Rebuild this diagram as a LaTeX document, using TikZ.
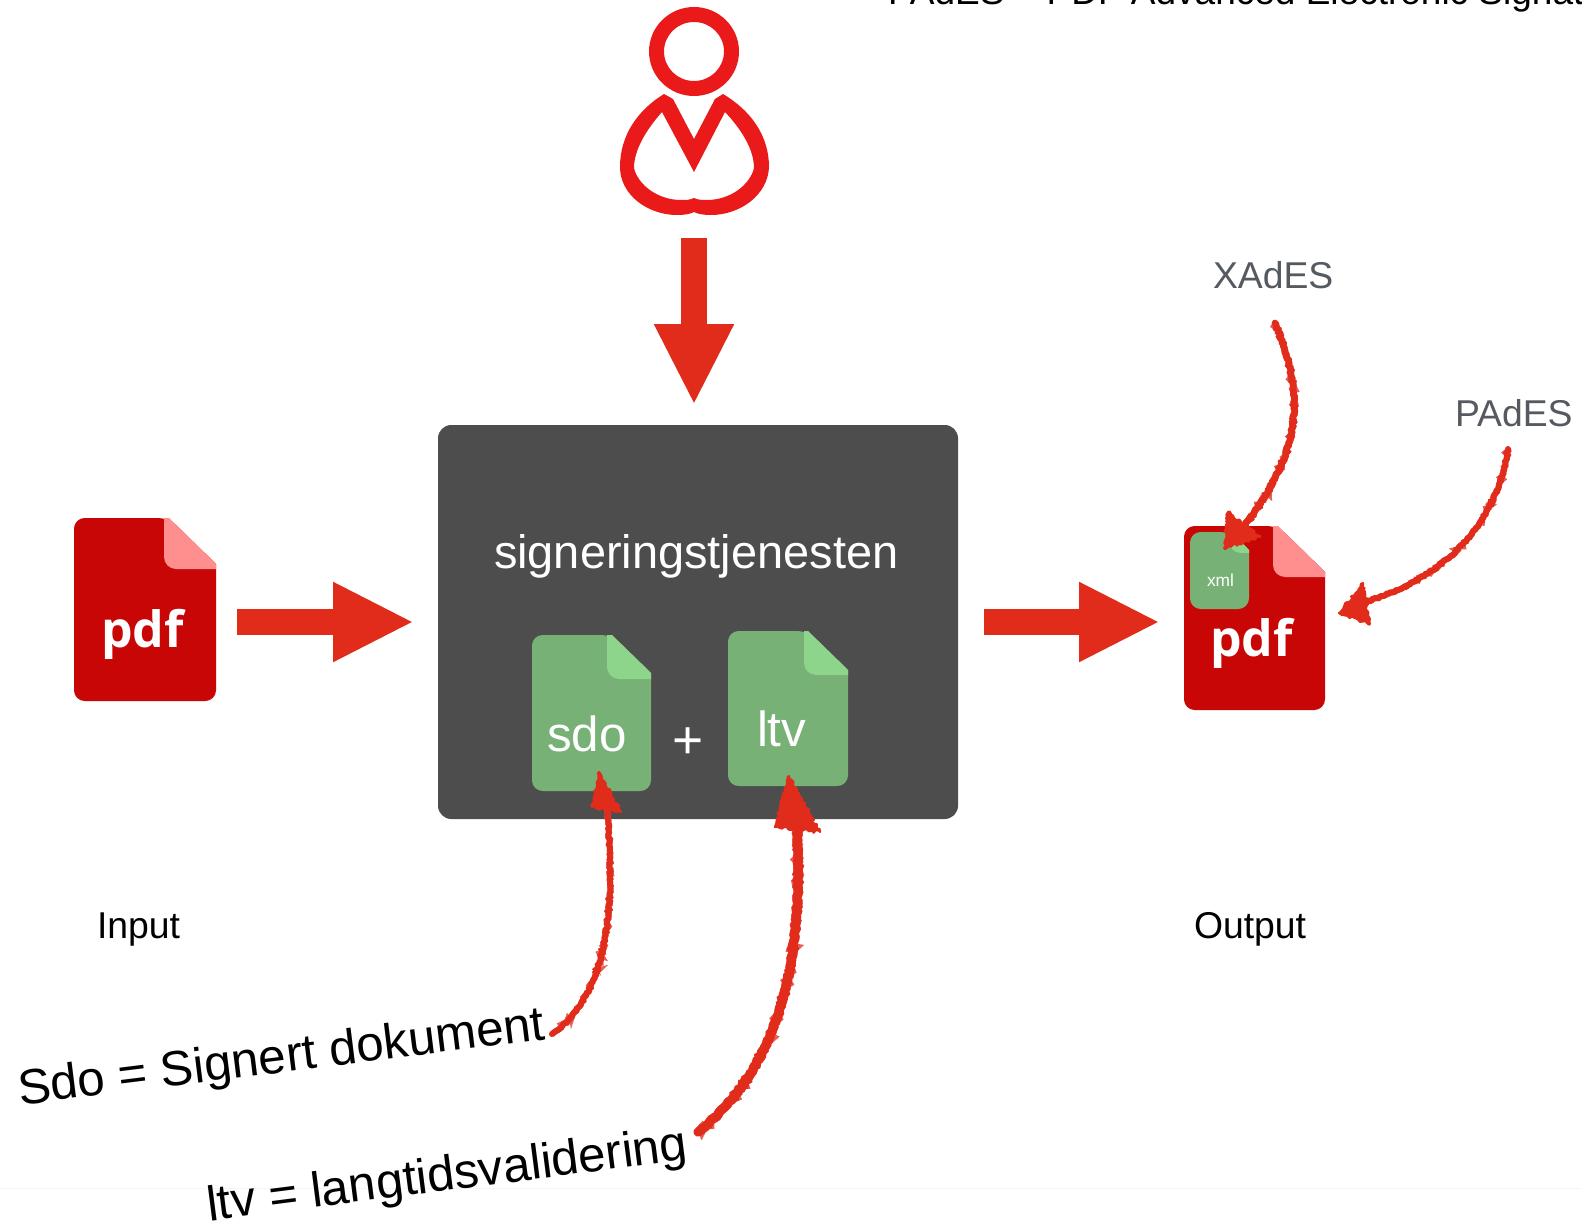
\documentclass[tikz,border=0pt]{standalone}
\usepackage{fontspec}
\setmainfont{Liberation Sans}
\newfontfamily\pdffont{Open Sans}
\usetikzlibrary{arrows.meta,decorations.pathmorphing}
\definecolor{handred}{HTML}{E22C1B}
\definecolor{personred}{HTML}{EA1A1A}
\definecolor{pdfred}{HTML}{C90606}
\definecolor{pdffold}{HTML}{FF8F8F}
\definecolor{docgreen}{HTML}{77B175}
\definecolor{docfold}{HTML}{8DD58A}
\definecolor{boxgrey}{HTML}{4D4D4D}
\definecolor{labelgrey}{HTML}{555A60}
% x1 y1 x2 y2 foldx foldy cutx cuty family
\newcommand{\docshape}[9]{%
  \fill[#9body,rounded corners=8pt] (#1,#2) -- (#7,#2) [sharp corners] -- (#3,#8) [rounded corners=8pt] -- (#3,#4) -- (#1,#4) -- cycle;
  \fill[#9flap] (#5,#2) [rounded corners=9pt] -- (#5,#6) [sharp corners] -- (#3,#6) -- (#3,#8) -- (#7,#2) -- cycle;}
\tikzset{
  x=0.75pt,y=-0.75pt,
  pdfbody/.style={fill=pdfred},
  pdfflap/.style={fill=pdffold},
  greenbody/.style={fill=docgreen},
  greenflap/.style={fill=docfold},
  holder/.style={rectangle,inner sep=0pt,outer sep=0pt},
  bigarrow/.style={draw=handred,line width=19.5pt,-{Triangle[length=60.75pt,width=55.5pt]}},
  fuzzy/.style={decorate,decoration={random steps,segment length=1.4pt,amplitude=#1}},
  handshaft/.style={draw=handred,fuzzy=0.6pt,line cap=round,
    postaction={draw=handred,fuzzy=1.1pt,line width=1.2pt},
    preaction={draw=handred!75!white,fuzzy=1.3pt,line width=#1}},
  handhead/.style={fill=handred,draw=handred,line width=1.6pt,line join=round,fuzzy=1.1pt},
  txt/.style={inner sep=0pt,outer sep=0pt,anchor=base west,align=left},
  pdftxt/.style={txt,text=white,font=\pdffont\bfseries\fontsize{37.5pt}{40pt}\selectfont},
  biglabel/.style={txt,font=\fontsize{28pt}{32pt}\selectfont},
  inbox/.style={txt,text=white,font=\fontsize{37pt}{40pt}\selectfont},
}
\begin{document}
\begin{tikzpicture}
\useasboundingbox (0,0) rectangle (1582,1227);
\clip (0,0) rectangle (1582,1227);
\fill[white] (0,0) rectangle (1582,1227);
\draw[black!4,line width=0.75pt] (0,1188) -- (1582,1188);

% top caption, cut by the page edge
\node[txt,font=\fontsize{27.75pt}{30pt}\selectfont] (caption) at (888,5) {PAdES = PDF Advanced Electronic Signature};

% person
\node[holder,minimum width=112pt,minimum height=157.5pt] (person) at (694,110) {};
\fill[personred,even odd rule] (694,51.5) ellipse [x radius=45,y radius=44.5] (694,51.5) ellipse [x radius=30,y radius=29.5];
\fill[personred,even odd rule]
  (664,94) -- (673,99) -- (694,139) -- (715,99) -- (723,94)
  .. controls (750,110) and (769,135) .. (769,167)
  .. controls (768,195) and (740,215) .. (711,215)
  .. controls (703,215) and (698,214) .. (694,212)
  .. controls (690,214) and (685,215) .. (677,215)
  .. controls (648,215) and (620,195) .. (620,167)
  .. controls (620,135) and (638,110) .. (664,94) -- cycle
  (662,112) -- (694,172) -- (725,112)
  .. controls (742,130) and (754,150) .. (754,168)
  .. controls (750,185) and (730,200) .. (707,200)
  .. controls (702,200) and (698,200) .. (694,198)
  .. controls (690,200) and (686,200) .. (681,200)
  .. controls (658,200) and (638,185) .. (634,168)
  .. controls (634,150) and (646,130) .. (662,112) -- cycle;

% service box
\node[holder,fill=boxgrey,rounded corners=10pt,minimum width=390pt,minimum height=295.5pt] (service) at (698,622) {};
\node[txt,text=white,font=\fontsize{35.2pt}{38pt}\selectfont] (servicetext) at (494,568) {signeringstjenesten};

% input pdf
\node[holder,minimum width=106.5pt,minimum height=136.5pt] (pdfin) at (145,609) {};
\docshape{74}{518}{216}{701}{164}{569}{169}{564}{pdf}
\node[pdftxt] (pdfintext) at (101,647) {pdf};

% output pdf
\node[holder,minimum width=105.75pt,minimum height=138pt] (pdfout) at (1254.5,618) {};
\docshape{1184}{526}{1325}{710}{1273}{577}{1278}{572}{pdf}
\node[pdftxt] (pdfouttext) at (1210,656) {pdf};

% xml
\docshape{1190}{532}{1249}{609}{1229}{553}{1231}{550}{green}
\node[txt,text=white,font=\fontsize{13pt}{15pt}\selectfont] (xmltext) at (1207,586) {xml};

% sdo, ltv
\docshape{532}{635}{651}{791}{607}{679}{612}{673}{green}
\node[inbox] (sdotext) at (547,751) {sdo};
\docshape{728}{631}{848}{786}{804}{675}{808}{670}{green}
\node[inbox] (ltvtext) at (757,746) {ltv};
\node[inbox,font=\fontsize{40pt}{44pt}\selectfont] (plus) at (672,758) {+};

% big arrows
\draw[bigarrow,shorten <=17.25pt,shorten >=15pt] (person.south) -- (person.south |- service.north);
\draw[bigarrow,shorten <=15.75pt,shorten >=18pt] (pdfin.east |- service.center) -- (service.west);
\draw[bigarrow,shorten <=19.5pt,shorten >=18pt] (service.east) -- (pdfout.west |- service.center);

% labels
\node[biglabel] (input) at (97,938) {Input};
\node[biglabel] (output) at (1194,938) {Output};
\node[biglabel,text=labelgrey] (xades) at (1213,288) {XAdES};
\node[biglabel,text=labelgrey] (pades) at (1455,426) {PAdES};
\node[txt,rotate=7.1,font=\fontsize{37pt}{40pt}\selectfont] (sdolabel) at (20,1105) {Sdo = Signert dokument};
\node[txt,rotate=7.3,font=\fontsize{36.8pt}{40pt}\selectfont] (ltvlabel) at (209,1221) {ltv = langtidsvalidering};

% hand-drawn arrows
\coordinate (xadesfrom) at (1275,323);
\coordinate (xadesneck) at (1245,525);
\coordinate (xadestip) at (1224,548);
\coordinate (padesfrom) at (1508,449);
\coordinate (padesneck) at (1362,603);
\coordinate (padestip) at (1339,613);
\coordinate (sdofrom) at (552,1034);
\coordinate (sdoneck) at (607,808);
\coordinate (sdotip) at (599,772);
\coordinate (ltvfrom) at (698,1132);
\coordinate (ltvneck) at (797,830);
\coordinate (ltvtip) at (789,776);

\draw[handshaft=5pt,line width=5pt] (xadesfrom) .. controls (1300,385) and (1310,440) .. (xadesneck);
\filldraw[handhead] (xadestip) -- (1228,512) -- (1260,537) -- cycle;
\draw[handshaft=4.5pt,line width=4.5pt] (padesfrom) .. controls (1495,530) and (1440,580) .. (padesneck);
\filldraw[handhead] (padestip) -- (1363,583) -- (1370,624) -- cycle;
\draw[handshaft=4.5pt,line width=4.5pt] (sdofrom) .. controls (600,1000) and (618,930) .. (sdoneck);
\filldraw[handhead] (sdotip) -- (592,807) -- (621,812) -- cycle;
\draw[handshaft=7pt,line width=7pt] (ltvfrom) .. controls (770,1075) and (805,980) .. (ltvneck);
\filldraw[handhead] (ltvtip) -- (775,827) -- (820,832) -- cycle;
\end{tikzpicture}
\end{document}
